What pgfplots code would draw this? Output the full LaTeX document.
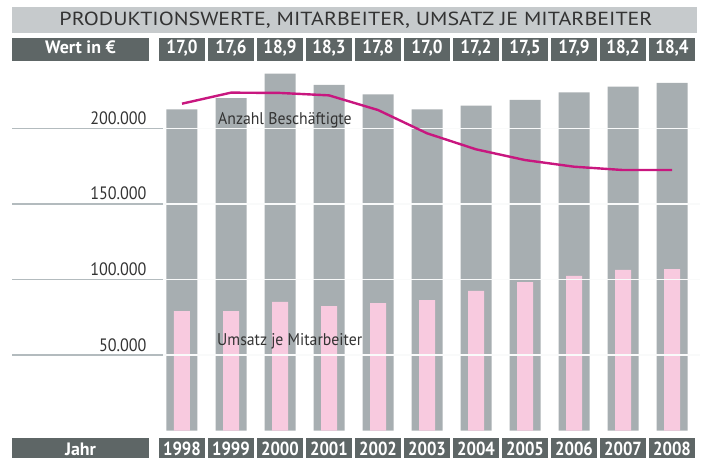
\documentclass[border=0pt]{standalone}
\usepackage{pgfplots}
\pgfplotsset{compat=1.18}
\usepackage{fontspec}
\setmainfont{PT Sans}
\definecolor{titlebg}{HTML}{C6CACC}
\definecolor{darkbox}{HTML}{5E6666}
\definecolor{bargrey}{HTML}{A7AEB1}
\definecolor{barpink}{HTML}{F8CADF}
\definecolor{magline}{HTML}{C8177F}
\definecolor{gridgrey}{HTML}{B3BBBE}
\definecolor{txt}{HTML}{333333}
\begin{document}
\begin{tikzpicture}
\begin{axis}[width=705bp, height=459bp, scale only axis,
  xmin=-3.714, xmax=10.673, ymin=-18790, ymax=284900,
  hide axis, clip=false]
% Produktionswerte (grey bars)
\addplot[ybar, bar width=31bp, bar shift=0pt, fill=bargrey, draw=none] coordinates {
 (0,212500) (1,220000) (2,236250) (3,228750) (4,222500) (5,212500)
 (6,215000) (7,218750) (8,223750) (9,227500) (10,230000)};
% Umsatz je Mitarbeiter (pink bars)
\addplot[ybar, bar width=16bp, bar shift=0pt, fill=barpink, draw=none] coordinates {
 (0,79100) (1,79100) (2,85100) (3,82400) (4,84400) (5,86400)
 (6,92400) (7,98300) (8,102300) (9,106300) (10,106900)};
% grid lines
\foreach \g in {50000,100000,150000,200000}{
  \edef\tmp{\noexpand\draw[gridgrey, line width=1.3bp] (axis cs:-3.469,\g) -- (axis cs:-0.388,\g);
  \noexpand\draw[white!92!gridgrey, line width=1.3bp] (axis cs:-0.388,\g) -- (axis cs:10.57,\g);}
  \tmp
}
% Anzahl Beschaeftigte (line)
\addplot[magline, line width=2.4bp, no markers] coordinates {
 (0,216300) (1,223600) (2,223400) (3,221800) (4,212100) (5,196700)
 (6,186100) (7,179000) (8,174600) (9,172400) (10,172400)};
% y labels
\foreach \g/\l in {50000/50.000,100000/100.000,150000/150.000,200000/200.000}{
  \edef\tmp{\noexpand\node[anchor=base east, inner sep=0pt, text=txt, font=\noexpand\fontsize{18}{20}\noexpand\selectfont, yshift=4bp] at (axis cs:-0.72,\g) {\noexpand\scalebox{0.9}[1]{\l}};}
  \tmp
}
\end{axis}
\begin{scope}[x=1bp,y=1bp]
\fill[titlebg] (12,426) rectangle (697,452);
\node[anchor=base, text=txt, font=\fontsize{19}{20}\selectfont] at (356,433.3) {\scalebox{1.16}[1]{PRODUKTIONSWERTE, MITARBEITER, UMSATZ JE MITARBEITER}};
\fill[darkbox] (12,398) rectangle (149,421);
\node[anchor=base, text=white, font=\bfseries\fontsize{18}{20}\selectfont] at (80.5,405.7) {Wert in €};
\fill[darkbox] (12,0.7) rectangle (149,21.3);
\node[anchor=base, text=white, font=\bfseries\fontsize{18}{20}\selectfont] at (80.5,4) {Jahr};
\foreach \i/\v in {0/17{,}0,1/17{,}6,2/18{,}9,3/18{,}3,4/17{,}8,5/17{,}0,6/17{,}2,7/17{,}5,8/17{,}9,9/18{,}2,10/18{,}4}{
  \fill[darkbox] ({159+49*\i},398) rectangle ({205+49*\i},421);
  \node[anchor=base, text=white, font=\bfseries\fontsize{19}{20}\selectfont] at ({182+49*\i},405.7) {\scalebox{0.9}[1]{\v}};
}
\foreach \i/\v in {0/1998,1/1999,2/2000,3/2001,4/2002,5/2003,6/2004,7/2005,8/2006,9/2007,10/2008}{
  \fill[darkbox] ({159+49*\i},0.7) rectangle ({205+49*\i},21.3);
  \node[anchor=base, text=white, font=\bfseries\fontsize{19}{20}\selectfont] at ({182+49*\i},4) {\scalebox{0.88}[1]{\v}};
}
\node[anchor=base west, inner sep=0pt, text=txt, font=\fontsize{17}{20}\selectfont] at (218,335) {\scalebox{0.93}[1]{Anzahl Beschäftigte}};
\node[anchor=base west, inner sep=0pt, text=txt, font=\fontsize{17}{20}\selectfont] at (217,113.3) {\scalebox{0.93}[1]{Umsatz je Mitarbeiter}};
\end{scope}
\pgfresetboundingbox
\path (0,0) rectangle (705bp,459bp);
\end{tikzpicture}
\end{document}
